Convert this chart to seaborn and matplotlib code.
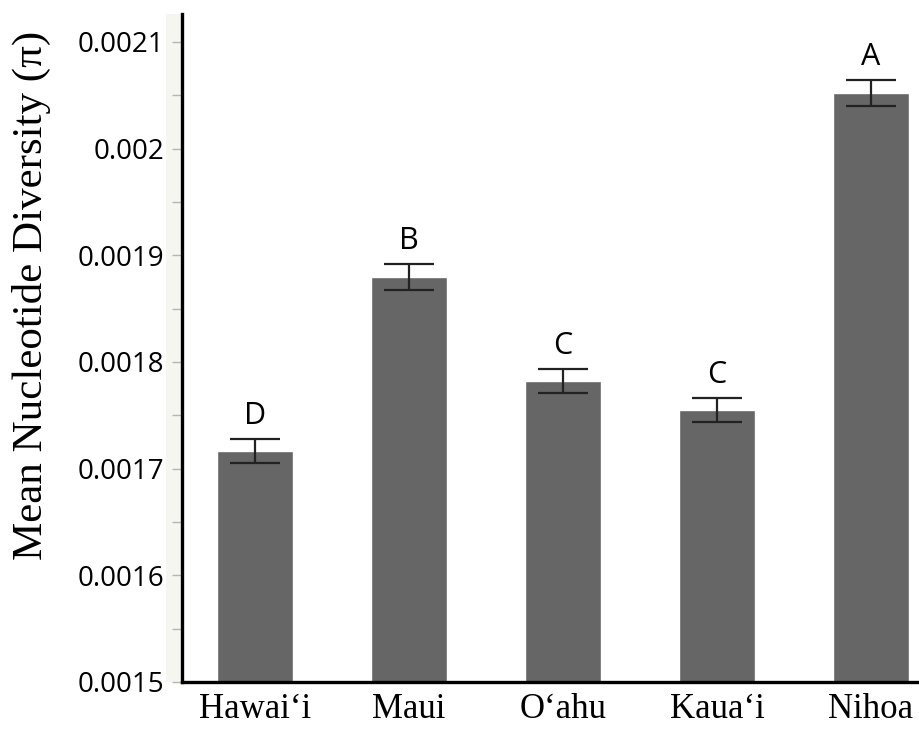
import matplotlib
matplotlib.use("Agg")
import matplotlib.pyplot as plt
from matplotlib.patches import Rectangle
from matplotlib.ticker import FixedLocator, FixedFormatter
import seaborn as sns
import pandas as pd

# Mean nucleotide diversity per island with standard errors and group letters
islands = ["Hawai\u2018i", "Maui", "O\u2018ahu", "Kaua\u2018i", "Nihoa"]
mean_pi = [0.0017165, 0.0018796, 0.0017821, 0.0017550, 0.0020523]
std_err = [0.0000112, 0.0000122, 0.0000110, 0.0000110, 0.0000119]
group_letters = ["D", "B", "C", "C", "A"]

y_ticks = [0.0015, 0.0016, 0.0017, 0.0018, 0.0019, 0.0020, 0.0021]
y_tick_labels = ["0.0015", "0.0016", "0.0017", "0.0018", "0.0019", "0.002", "0.0021"]
y_minor = [0.00155, 0.00165, 0.00175, 0.00185, 0.00195, 0.00205]

df = pd.DataFrame({"island": islands, "pi": mean_pi})

sns.set_theme(style="white")
plt.rcParams["font.family"] = ["Open Sans", "DejaVu Sans"]

fig = plt.figure(figsize=(9.2, 7.3), dpi=100)
ax = fig.add_axes([182 / 920, 48 / 730, 738 / 920, 668 / 730])

sns.barplot(data=df, x="island", y="pi", color="#666666", saturation=1,
            width=0.49, errorbar=None, ax=ax, zorder=2)

ax.errorbar(range(len(islands)), mean_pi, yerr=std_err, fmt="none",
            ecolor="#222222", elinewidth=1.6, capsize=18, capthick=1.6,
            zorder=3)

for i, (m, e, letter) in enumerate(zip(mean_pi, std_err, group_letters)):
    ax.annotate(letter, xy=(i, m + e), xytext=(0, 11), textcoords="offset points",
                ha="center", va="baseline", fontsize=22, color="black",
                family=["Open Sans", "DejaVu Sans"])

ax.set_xlim(-0.474, 4.318)
ax.set_ylim(0.0015, 0.0021262)

ax.yaxis.set_major_locator(FixedLocator(y_ticks))
ax.yaxis.set_major_formatter(FixedFormatter(y_tick_labels))
ax.yaxis.set_minor_locator(FixedLocator(y_minor))
ax.tick_params(axis="y", which="both", left=True, direction="out", length=7,
               width=1.0, color="#b5b5b5", pad=6, labelsize=20, labelcolor="black")
ax.tick_params(axis="x", which="both", bottom=False, pad=2)
for lab in ax.get_xticklabels():
    lab.set_fontfamily(["Liberation Serif", "DejaVu Serif"])
    lab.set_fontsize(25)
    lab.set_color("black")
for lab in ax.get_yticklabels():
    lab.set_fontfamily(["Open Sans", "DejaVu Sans"])

ax.set_xlabel("")
ax.set_ylabel("")
fig.text(31 / 920, 1 - 295 / 730, "Mean Nucleotide Diversity (\u03c0)",
         rotation=90, ha="center", va="center", fontsize=31,
         family=["Liberation Serif", "DejaVu Serif"], color="black")

for side in ["top", "right"]:
    ax.spines[side].set_visible(False)
for side in ["left", "bottom"]:
    ax.spines[side].set_color("black")
    ax.spines[side].set_linewidth(2.4)

# light strip behind the tick marks
fig.patches.append(Rectangle((166 / 920, 48 / 730), 15 / 920, 668 / 730,
                             transform=fig.transFigure, facecolor="#f6f6f1",
                             edgecolor="none", zorder=-1))

fig.savefig("out.png", dpi=100, facecolor="white")
